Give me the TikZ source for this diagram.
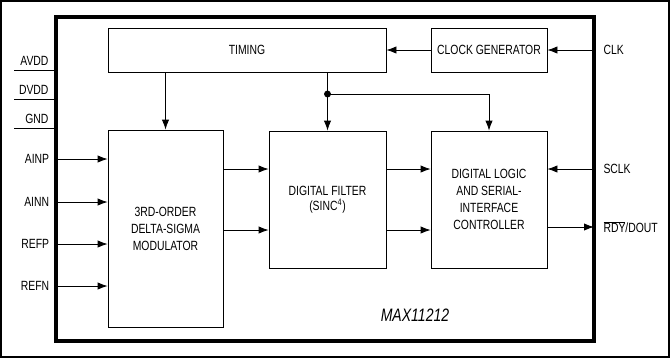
\documentclass[tikz,border=0pt]{standalone}
\usepackage{fontspec}
\setmainfont{Liberation Sans}[FakeStretch=0.78]
\usetikzlibrary{arrows.meta,positioning}

\begin{document}
\begin{tikzpicture}[x=0.75pt, y=-0.75pt,
    >={Latex[length=7.5pt,width=5.5pt]},  % filled arrow tips
    block/.style={draw, align=center, inner sep=0pt},
    font=\fontsize{10}{12.75}\selectfont, line width=0.6pt]
  % outer frame and chip outline
  \useasboundingbox (0,0) rectangle (670,358);
  \draw[line width=0.8pt] (1,1) rectangle (669,357);
  \draw[line width=3pt] (56,17) rectangle (594,341);
  % function blocks
  \node[block, minimum width=208.5pt, minimum height=33pt] (timing) at (247,50) {TIMING};
  \node[block, minimum width=87pt, minimum height=33pt] (clkgen) at (489,50) {CLOCK GENERATOR};
  \node[block, minimum width=86.25pt, minimum height=147.75pt] (mod) at (165.5,228.5) {3RD-ORDER\\DELTA-SIGMA\\MODULATOR};
  \node[block, minimum width=87.75pt, minimum height=102.75pt, font=\fontsize{10}{11.25}\selectfont] (filter) at (327.5,199.5) {DIGITAL FILTER\\(SINC\textsuperscript{4})};
  \node[block, minimum width=87pt, minimum height=102.75pt] (logic) at (489,199.5) {DIGITAL LOGIC\\AND SERIAL-\\INTERFACE\\CONTROLLER};
  \node[font=\fontsize{13.5}{15}\selectfont\itshape] (part) at (415,315) {MAX11212};
  % supply pins
  \coordinate (avdd) at (56,70);
  \coordinate (dvdd) at (56,99);
  \coordinate (gnd) at (56,128);
  \foreach \p/\t in {avdd/AVDD, dvdd/DVDD, gnd/GND} {
    \draw (\p) -- ++(-42,0);
    \node[above left=0pt and 2pt of \p] (\p lbl) {\t};
  }
  % analog inputs
  \coordinate (ainp) at (56,159);
  \coordinate (ainn) at (56,202);
  \coordinate (refp) at (56,244);
  \coordinate (refn) at (56,286);
  \foreach \p/\t in {ainp/AINP, ainn/AINN, refp/REFP, refn/REFN} {
    \node[left=1.5pt of \p] (\p lbl) {\t};
    \draw[->] (\p) -- (mod.west |- \p);
  }
  % digital pins
  \coordinate (clk) at (594,50);
  \coordinate (sclk) at (594,169);
  \coordinate (dout) at (594,227);
  \node[right=3.5pt of clk] (clklbl) {CLK};
  \node[right=3.5pt of sclk] (sclklbl) {SCLK};
  \node[right=3.5pt of dout] (doutlbl) {$\overline{\mbox{RDY}}$/DOUT};
  \draw[->] (clk) -- (clkgen.east);
  \draw[->] (sclk) -- (logic.east |- sclk);
  \draw[->] (logic.east |- dout) -- (dout);
  % internal signals
  \draw[->] (clkgen.west) -- (timing.east);
  \draw[->] (mod.north |- timing.south) -- (mod.north);
  \draw[->] (filter.north |- timing.south) -- (filter.north);
  \coordinate (tap) at (filter.north |- 0,94);
  \fill (tap) circle (2.6pt);
  \draw[->] (tap) -| (logic.north);
  \draw[->] (mod.east |- 0,169) -- (filter.west |- 0,169);
  \draw[->] (mod.east |- 0,230) -- (filter.west |- 0,230);
  \draw[->] (filter.east |- 0,169) -- (logic.west |- 0,169);
  \draw[->] (filter.east |- 0,230) -- (logic.west |- 0,230);
\end{tikzpicture}
\end{document}
